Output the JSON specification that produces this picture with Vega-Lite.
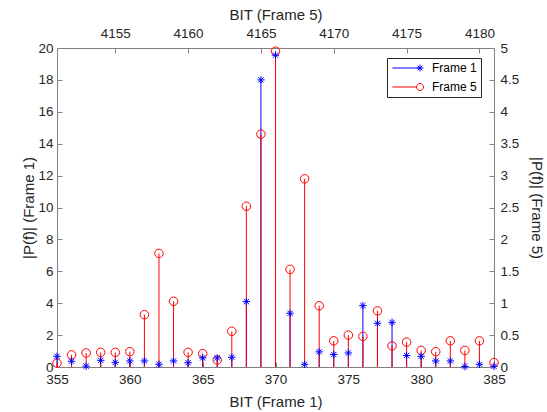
{
  "$schema": "https://vega.github.io/schema/vega-lite/v6.json",
  "width": 437,
  "height": 319,
  "autosize": {"type": "none"},
  "padding": {"left": 57, "top": 48, "right": 53, "bottom": 45},
  "config": {
    "view": {"stroke": null},
    "font": "Liberation Sans",
    "axis": {
      "grid": false,
      "domainColor": "#808080",
      "domainWidth": 1,
      "tickColor": "#808080",
      "tickSize": -5,
      "labelPadding": 9,
      "labelFont": "Liberation Sans",
      "labelFontSize": 13.5,
      "labelColor": "#262626",
      "titleFont": "Liberation Sans",
      "titleFontSize": 15,
      "titleFontWeight": "normal",
      "titleColor": "#262626",
      "labelFlush": false,
      "labelOverlap": false
    },
    "legend": {
      "labelFont": "Liberation Sans",
      "labelFontSize": 12,
      "labelColor": "#000000"
    }
  },
  "datasets": {
    "f1": [
      {"bit": 355, "p": 0.67, "series": "Frame 1"},
      {"bit": 356, "p": 0.36, "series": "Frame 1"},
      {"bit": 357, "p": 0.05, "series": "Frame 1"},
      {"bit": 358, "p": 0.42, "series": "Frame 1"},
      {"bit": 359, "p": 0.29, "series": "Frame 1"},
      {"bit": 360, "p": 0.38, "series": "Frame 1"},
      {"bit": 361, "p": 0.38, "series": "Frame 1"},
      {"bit": 362, "p": 0.17, "series": "Frame 1"},
      {"bit": 363, "p": 0.38, "series": "Frame 1"},
      {"bit": 364, "p": 0.27, "series": "Frame 1"},
      {"bit": 365, "p": 0.57, "series": "Frame 1"},
      {"bit": 366, "p": 0.57, "series": "Frame 1"},
      {"bit": 367, "p": 0.61, "series": "Frame 1"},
      {"bit": 368, "p": 4.1, "series": "Frame 1"},
      {"bit": 369, "p": 18.0, "series": "Frame 1"},
      {"bit": 370, "p": 19.55, "series": "Frame 1"},
      {"bit": 371, "p": 3.37, "series": "Frame 1"},
      {"bit": 372, "p": 0.17, "series": "Frame 1"},
      {"bit": 373, "p": 0.95, "series": "Frame 1"},
      {"bit": 374, "p": 0.78, "series": "Frame 1"},
      {"bit": 375, "p": 0.88, "series": "Frame 1"},
      {"bit": 376, "p": 3.85, "series": "Frame 1"},
      {"bit": 377, "p": 2.74, "series": "Frame 1"},
      {"bit": 378, "p": 2.8, "series": "Frame 1"},
      {"bit": 379, "p": 0.72, "series": "Frame 1"},
      {"bit": 380, "p": 0.67, "series": "Frame 1"},
      {"bit": 381, "p": 0.38, "series": "Frame 1"},
      {"bit": 382, "p": 0.38, "series": "Frame 1"},
      {"bit": 383, "p": 0.03, "series": "Frame 1"},
      {"bit": 384, "p": 0.17, "series": "Frame 1"},
      {"bit": 385, "p": 0.04, "series": "Frame 1"}
    ],
    "f5": [
      {"bit": 4151, "p": 0.06, "series": "Frame 5"},
      {"bit": 4152, "p": 0.19, "series": "Frame 5"},
      {"bit": 4153, "p": 0.22, "series": "Frame 5"},
      {"bit": 4154, "p": 0.23, "series": "Frame 5"},
      {"bit": 4155, "p": 0.23, "series": "Frame 5"},
      {"bit": 4156, "p": 0.24, "series": "Frame 5"},
      {"bit": 4157, "p": 0.82, "series": "Frame 5"},
      {"bit": 4158, "p": 1.78, "series": "Frame 5"},
      {"bit": 4159, "p": 1.03, "series": "Frame 5"},
      {"bit": 4160, "p": 0.23, "series": "Frame 5"},
      {"bit": 4161, "p": 0.21, "series": "Frame 5"},
      {"bit": 4162, "p": 0.11, "series": "Frame 5"},
      {"bit": 4163, "p": 0.56, "series": "Frame 5"},
      {"bit": 4164, "p": 2.52, "series": "Frame 5"},
      {"bit": 4165, "p": 3.65, "series": "Frame 5"},
      {"bit": 4166, "p": 4.95, "series": "Frame 5"},
      {"bit": 4167, "p": 1.53, "series": "Frame 5"},
      {"bit": 4168, "p": 2.95, "series": "Frame 5"},
      {"bit": 4169, "p": 0.96, "series": "Frame 5"},
      {"bit": 4170, "p": 0.41, "series": "Frame 5"},
      {"bit": 4171, "p": 0.5, "series": "Frame 5"},
      {"bit": 4172, "p": 0.48, "series": "Frame 5"},
      {"bit": 4173, "p": 0.88, "series": "Frame 5"},
      {"bit": 4174, "p": 0.33, "series": "Frame 5"},
      {"bit": 4175, "p": 0.39, "series": "Frame 5"},
      {"bit": 4176, "p": 0.26, "series": "Frame 5"},
      {"bit": 4177, "p": 0.24, "series": "Frame 5"},
      {"bit": 4178, "p": 0.41, "series": "Frame 5"},
      {"bit": 4179, "p": 0.26, "series": "Frame 5"},
      {"bit": 4180, "p": 0.41, "series": "Frame 5"},
      {"bit": 4181, "p": 0.07, "series": "Frame 5"}
    ]
  },
  "layer": [
    {
      "data": {"name": "f1"},
      "mark": {"type": "rule", "color": "#0000ff", "strokeWidth": 1},
      "encoding": {
        "x": {"field": "bit", "type": "quantitative", "scale": {"domain": [355, 385], "nice": false, "zero": false},
              "axis": {"orient": "bottom", "title": "BIT (Frame 1)", "values": [355, 360, 365, 370, 375, 380, 385], "format": "d", "labelPadding": 10.5, "titlePadding": 8}},
        "y": {"field": "p", "type": "quantitative", "scale": {"domain": [0, 20], "nice": false},
              "axis": {"orient": "left", "title": "|P(f)| (Frame 1)", "values": [0, 2, 4, 6, 8, 10, 12, 14, 16, 18, 20], "format": "d", "titlePadding": 1}},
        "y2": {"datum": 0}
      }
    },
    {
      "data": {"name": "f5"},
      "encoding": {
        "x": {"field": "bit", "type": "quantitative", "scale": {"domain": [4151, 4181], "nice": false, "zero": false},
              "axis": {"orient": "top", "title": "BIT (Frame 5)", "values": [4155, 4160, 4165, 4170, 4175, 4180], "format": "d", "labelPadding": 12.5, "titlePadding": 4}},
        "y": {"field": "p", "type": "quantitative", "scale": {"domain": [0, 5], "nice": false},
              "axis": {"orient": "right", "title": "|P(f)| (Frame 5)", "values": [0, 0.5, 1, 1.5, 2, 2.5, 3, 3.5, 4, 4.5, 5], "format": "~g", "labelPadding": 11, "titlePadding": 10}}
      },
      "layer": [
        {"mark": {"type": "rule", "color": "#ff0000", "strokeWidth": 1}, "encoding": {"y2": {"datum": 0}}},
        {"mark": {"type": "point", "shape": "circle", "filled": false, "color": "#ff0000", "size": 72, "strokeWidth": 1, "opacity": 1},
         "encoding": {}}
      ]
    },
    {
      "data": {"name": "f1"},
      "encoding": {
        "x": {"field": "bit", "type": "quantitative", "scale": {"domain": [355, 385], "nice": false, "zero": false}, "axis": null},
        "y": {"field": "p", "type": "quantitative", "scale": {"domain": [0, 20], "nice": false}, "axis": null}
      },
      "layer": [
        {"mark": {"type": "point", "shape": "M0,-1L0,1M-1,0L1,0M-0.7,-0.7L0.7,0.7M-0.7,0.7L0.7,-0.7", "filled": false, "color": "#0000ff", "size": 56, "strokeWidth": 1, "opacity": 1}},
        {"mark": {"type": "point", "filled": false, "size": 49, "strokeWidth": 1, "opacity": 0},
         "encoding": {
           "color": {"field": "series", "type": "nominal", "scale": {"domain": ["Frame 1", "Frame 5"], "range": ["#0000ff", "#ff0000"]},
             "legend": {
               "title": null, "orient": "none", "legendX": 330, "legendY": 10,
               "padding": 4, "strokeColor": "#262626", "fillColor": "#ffffff",
               "symbolSize": 49, "symbolStrokeWidth": 1, "symbolOpacity": 1, "symbolOffset": 23, "labelOffset": 6,
               "rowPadding": 7
             }},
           "shape": {"field": "series", "type": "nominal", "scale": {"domain": ["Frame 1", "Frame 5"], "range": ["M-7.9,0L0,0M0,-1L0,1M-1,0L1,0M-0.7,-0.7L0.7,0.7M-0.7,0.7L0.7,-0.7", "M-7.9,0L-1,0M1,0A1,1,0,1,1,-1,0A1,1,0,1,1,1,0"]}}
         }}
      ]
    }
  ],
  "resolve": {"scale": {"x": "independent", "y": "independent", "color": "shared", "shape": "shared"}}
}
